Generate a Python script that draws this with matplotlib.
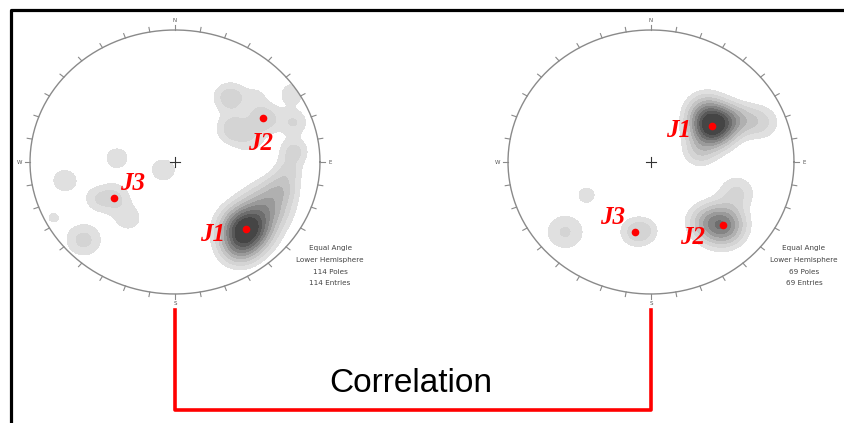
import numpy as np
import matplotlib
matplotlib.use("Agg")
import matplotlib.pyplot as plt

# pixel geometry of the two nets (centre x, centre y, radius x, radius y)
nets = [(175, 162, 145, 132), (651, 162, 143, 132)]

# density blobs in unit-circle coordinates: x, y, sigma, weight
left_blobs = [
    (0.49, -0.51, 0.11, 1.05), (0.63, -0.34, 0.11, 0.42), (0.73, -0.20, 0.08, 0.22),
    (0.44, -0.66, 0.09, 0.32), (0.82, 0.08, 0.07, 0.20), (0.82, 0.30, 0.07, 0.17),
    (0.81, 0.52, 0.07, 0.14), (0.78, -0.07, 0.07, 0.15), (0.61, 0.33, 0.08, 0.24),
    (0.40, 0.25, 0.08, 0.22), (0.38, 0.49, 0.08, 0.23), (0.52, 0.16, 0.08, 0.11),
    (0.56, 0.50, 0.06, 0.09),
    (-0.42, -0.27, 0.08, 0.18), (-0.32, -0.43, 0.08, 0.13), (-0.54, -0.28, 0.07, 0.12),
    (-0.40, 0.03, 0.08, 0.13), (-0.76, -0.14, 0.08, 0.14), (-0.08, -0.06, 0.07, 0.16),
    (-0.63, -0.59, 0.09, 0.20), (-0.84, -0.42, 0.06, 0.10),
]
right_blobs = [
    (0.43, 0.27, 0.10, 1.05), (0.38, 0.40, 0.09, 0.26), (0.34, 0.08, 0.08, 0.20),
    (0.56, 0.33, 0.08, 0.22), (0.77, 0.30, 0.09, 0.18), (0.66, 0.32, 0.08, 0.12),
    (0.50, -0.48, 0.10, 0.65), (0.60, -0.23, 0.09, 0.18), (0.37, -0.45, 0.09, 0.20),
    (-0.11, -0.53, 0.08, 0.19), (-0.03, -0.52, 0.07, 0.10),
    (-0.60, -0.53, 0.10, 0.18), (-0.45, -0.25, 0.06, 0.13),
]

# set centres (red dots) and label positions
left_sets = ["J1", "J2", "J3"]
left_dots = [(0.49, -0.51), (0.61, 0.33), (-0.42, -0.27)]
left_labels = [(0.26, -0.55), (0.59, 0.14), (-0.29, -0.16)]
right_sets = ["J1", "J2", "J3"]
right_dots = [(0.43, 0.27), (0.50, -0.48), (-0.11, -0.53)]
right_labels = [(0.19, 0.24), (0.29, -0.57), (-0.27, -0.42)]

info_left = ["Equal Angle", "Lower Hemisphere", "114 Poles", "114 Entries"]
info_right = ["Equal Angle", "Lower Hemisphere", "69 Poles", "69 Entries"]

levels = [0.09, 0.17, 0.26, 0.36, 0.47, 0.58, 0.70, 0.82, 0.94, 5.0]
grays = ["#e0e0e0", "#d4d4d4", "#c4c4c4", "#b0b0b0", "#9a9a9a", "#848484",
         "#6e6e6e", "#595959", "#454545"]

W, H = 844, 423
fig = plt.figure(figsize=(W / 100, H / 100), dpi=100)

# overlay axes in pixel units for frame, bracket and caption
bg = fig.add_axes([0, 0, 1, 1])
bg.set_xlim(0, W)
bg.set_ylim(H, 0)
bg.axis("off")
bg.plot([10.5, 10.5, W], [H, 10.5, 10.5], color="black", lw=2.3, solid_capstyle="butt")
bg.plot([175, 175, 651, 651], [310, 410, 410, 310], color="#ff0000", lw=2.6)
bg.text(411, 383, "Correlation", fontsize=24, family="Liberation Sans",
        ha="center", va="center", color="black")


def stereonet(cx, cy, rx, ry, blobs, names, dots, labels, info):
    ext = 1.25
    ax = fig.add_axes([(cx - ext * rx) / W, (H - cy - ext * ry) / H,
                       2 * ext * rx / W, 2 * ext * ry / H])
    ax.set_xlim(-ext, ext)
    ax.set_ylim(-ext, ext)
    ax.axis("off")
    ax.patch.set_alpha(0)

    g = np.linspace(-1, 1, 400)
    X, Y = np.meshgrid(g, g)
    Z = np.zeros_like(X)
    for x0, y0, s, w in blobs:
        Z += w * np.exp(-((X - x0) ** 2 + (Y - y0) ** 2) / (2 * s ** 2))
    Z[X ** 2 + Y ** 2 > 0.985] = 0
    ax.contourf(X, Y, Z, levels=levels, colors=grays)

    t = np.linspace(0, 2 * np.pi, 400)
    ax.plot(np.cos(t), np.sin(t), color="#8a8a8a", lw=1.0)
    for a in np.radians(np.arange(0, 360, 10)):
        ax.plot([np.sin(a), 1.035 * np.sin(a)], [np.cos(a), 1.035 * np.cos(a)],
                color="#8a8a8a", lw=0.8)
    for lab, a in zip("NESW", [0, 90, 180, 270]):
        r = np.radians(a)
        ax.text(1.07 * np.sin(r), 1.07 * np.cos(r), lab, fontsize=4, color="#555555",
                ha="center", va="center")
    ax.plot([-0.035, 0.035], [0, 0], color="#333333", lw=0.8)
    ax.plot([0, 0], [-0.04, 0.04], color="#333333", lw=0.8)

    for n, (dx, dy), (lx, ly) in zip(names, dots, labels):
        ax.plot(dx, dy, "o", color="#ff0000", ms=5.5, mec="none")
        ax.text(lx, ly, n, fontsize=18, color="#ff0000", family="Liberation Serif",
                style="italic", weight="bold", ha="center", va="center")

    for i, line in enumerate(info):
        ax.text(1.07, -0.65 - i * 0.09, line, fontsize=5.2, color="#444444",
                ha="center", va="center")


stereonet(*nets[0], left_blobs, left_sets, left_dots, left_labels, info_left)
stereonet(*nets[1], right_blobs, right_sets, right_dots, right_labels, info_right)

fig.savefig("out.png", dpi=100, facecolor="white")
